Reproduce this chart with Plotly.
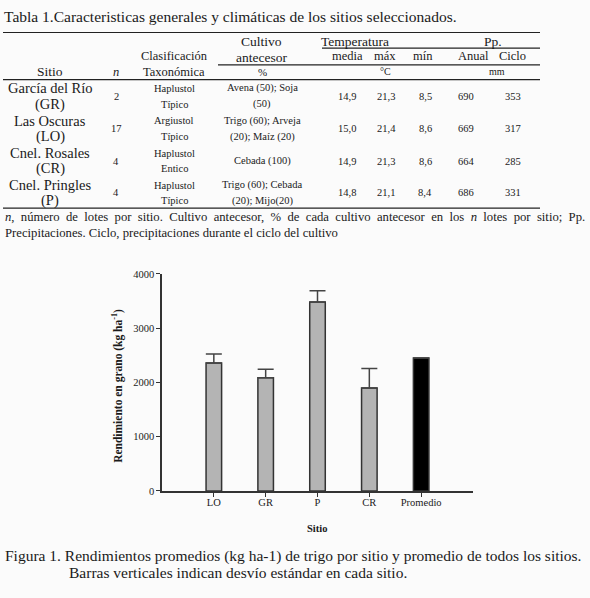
import plotly.graph_objects as go

W, H = 590, 598
FONT = "'Liberation Serif', 'Times New Roman', Times, serif"
INK = "#1a1a1a"

# table 1 data
sitio_nombre = ["García del Río", "Las Oscuras", "Cnel. Rosales", "Cnel. Pringles"]
sitio_codigo = ["(GR)", "(LO)", "(CR)", "(P)"]
n_lotes = ["2", "17", "4", "4"]
clasificacion = ["Haplustol<br>Típico", "Argiustol<br>Típico", "Haplustol<br>Entico", "Haplustol<br>Típico"]
cultivo_antecesor = ["Avena (50); Soja<br>(50)", "Trigo (60); Arveja<br>(20); Maíz (20)",
                     "Cebada (100)", "Trigo (60); Cebada<br>(20); Mijo(20)"]
temp_media = ["14,9", "15,0", "14,9", "14,8"]
temp_max = ["21,3", "21,4", "21,3", "21,1"]
temp_min = ["8,5", "8,6", "8,6", "8,4"]
pp_anual = ["690", "669", "664", "686"]
pp_ciclo = ["353", "317", "285", "331"]

# figure 1 data
sitios = ["LO", "GR", "P", "CR", "Promedio"]
rendimiento = [2360, 2085, 3485, 1895, 2450]
desvio = [165, 160, 205, 360, 0]


def px(x):
  return x / W


def py(y):
  return 1 - y / H


annotations = []


def text(x, y, s, size=11, anchor="center", **kw):
  annotations.append(dict(
    x=px(x), y=py(y), xref="paper", yref="paper", text=s, showarrow=False,
    xanchor=anchor, yanchor="middle", font=dict(family=FONT, size=size, color=INK), **kw))


def hline(x0, x1, y, width=1.2):
  return dict(type="line", xref="paper", yref="paper", x0=px(x0), x1=px(x1), y0=py(y), y1=py(y),
              line=dict(color="#222", width=width))


def cell(x, y, s, size):
  # split two-line cells so line spacing is tight like the original
  lines = s.split("<br>")
  if len(lines) == 1:
    text(x, y, lines[0], size)
  else:
    text(x, y - 8, lines[0], size)
    text(x, y + 8, lines[1], size)


# title
text(2, 12, "Tabla 1.Caracteristicas generales y climáticas de los sitios seleccionados.", 15.5, "left")

# headers
text(261, 37, "Cultivo", 13.5)
text(355, 37, "Temperatura", 13.5)
text(493, 37, "Pp.", 13.5)
text(174, 52, "Clasificación", 12.5)
text(261, 53, "antecesor", 13.5)
text(347, 52, "media", 12.5)
text(385, 52, "máx", 12.5)
text(423, 52, "mín", 12.5)
text(473, 52, "Anual", 12.5)
text(512, 52, "Ciclo", 12.5)
text(50, 68, "Sitio", 13.5)
text(116, 68, "<i>n</i>", 12.5)
text(174, 68, "Taxonómica", 12.5)
text(262, 68, "%", 11)
text(385, 68, "°C", 10)
text(497, 68, "mm", 10)

col_x = [116, 174, 262, 347, 386, 425, 466, 513]
row_y = [93, 126, 159, 191.5]
for i, y in enumerate(row_y):
  text(50, y - 8, sitio_nombre[i], 14.5)
  text(50, y + 8, sitio_codigo[i], 14.5)
  vals = [n_lotes[i], clasificacion[i], cultivo_antecesor[i], temp_media[i],
          temp_max[i], temp_min[i], pp_anual[i], pp_ciclo[i]]
  for x, v in zip(col_x, vals):
    cell(x, y, v, 10.5)

# footnote (first line is justified in the original, so spaces are widened)
sp = "\u00a0 "
text(3, 216, sp.join(["<i>n</i>,", "número", "de", "lotes", "por", "sitio.", "Cultivo", "antecesor,", "%", "de",
                      "cada", "cultivo", "antecesor", "en", "los", "<i>n</i>", "lotes", "por", "sitio;", "Pp."]),
     12.7, "left")
text(3, 232, "Precipitaciones. Ciclo, precipitaciones durante el ciclo del cultivo", 12.7, "left")

# figure caption
text(3, 561, "Figura 1. Rendimientos promedios (kg ha-1) de trigo por sitio y promedio de todos los sitios.", 15.5, "left")
text(67, 578, "Barras verticales indican desvío estándar en cada sitio.", 15.5, "left")

# chart axis titles
text(118, 388, "<b>Rendimiento en grano (kg ha<sup>-1</sup>)</b>", 11.5, textangle=-90)
text(317, 533, "<b>Sitio</b>", 10.5)

shapes = [
  hline(3, 540, 28),
  hline(322, 540, 44),
  hline(218, 540, 61),
  hline(3, 540, 76),
  hline(3, 540, 207),
]

fig = go.Figure()
fig.add_trace(go.Bar(
  x=sitios,
  y=rendimiento,
  width=0.3,
  marker=dict(color=["#b4b4b4"] * 4 + ["#000000"], line=dict(color="#333", width=1.5)),
  error_y=dict(type="data", symmetric=False, array=desvio, arrayminus=[0] * len(desvio),
               color="#444", thickness=1.5, width=8),
))

fig.update_layout(
  width=W,
  height=H,
  margin=dict(l=0, r=0, t=0, b=0),
  paper_bgcolor="#fbfbfb",
  plot_bgcolor="#fbfbfb",
  showlegend=False,
  annotations=annotations,
  shapes=shapes,
  font=dict(family=FONT, size=10, color=INK),
  xaxis=dict(
    domain=[px(162), px(473)],
    range=[-1, 5],
    showline=True, linecolor="#333", linewidth=1.5,
    ticks="outside", ticklen=4, tickcolor="#333",
    ticklabelstandoff=-3,
    showgrid=False, zeroline=False,
    tickfont=dict(family=FONT, size=10.5, color=INK),
  ),
  yaxis=dict(
    domain=[py(495), py(274)],
    range=[0, 4000],
    tickvals=[0, 1000, 2000, 3000, 4000],
    showline=True, linecolor="#333", linewidth=1.5,
    ticks="outside", ticklen=4, tickcolor="#333",
    showgrid=False, zeroline=False,
    tickfont=dict(family=FONT, size=10.5, color=INK),
  ),
)

# drop the default page margin and scrollbars so the figure fills the window exactly
page_js = ("document.body.style.margin = '0px';"
           "document.body.style.overflow = 'hidden';"
           "document.documentElement.style.overflow = 'hidden';")
fig.write_html("out.html", post_script=page_js, config=dict(displayModeBar=False))
